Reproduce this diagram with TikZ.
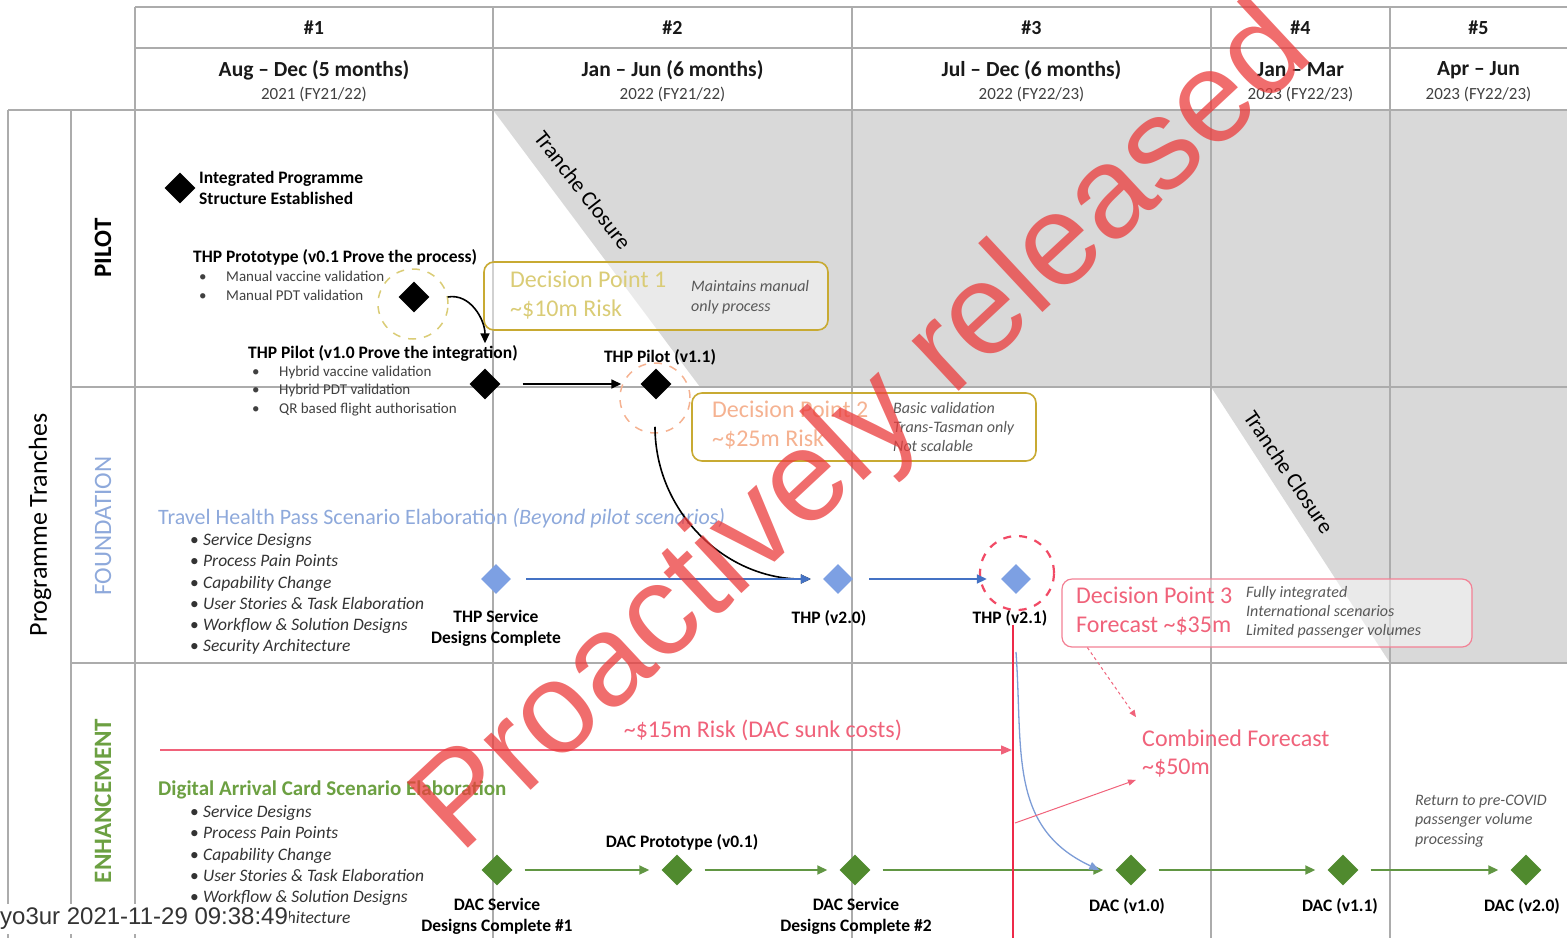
\documentclass[tikz,border=0pt]{standalone}
\usepackage{fontspec}
\setmainfont{Carlito}
\newfontfamily\stampfont{Liberation Sans}
\usetikzlibrary{shapes.geometric,arrows.meta}

\definecolor{gridgray}{RGB}{172,172,172}
\definecolor{closegray}{RGB}{217,217,217}
\definecolor{thpblue}{RGB}{142,169,219}
\definecolor{thpline}{RGB}{68,114,196}
\definecolor{thpdia}{RGB}{125,160,227}
\definecolor{dacgreen}{RGB}{80,138,46}
\definecolor{daclabel}{RGB}{108,160,66}
\definecolor{golden}{RGB}{200,170,50}
\definecolor{dpone}{RGB}{218,204,118}
\definecolor{dptwo}{RGB}{245,178,145}
\definecolor{riskred}{RGB}{240,98,122}
\definecolor{riskline}{RGB}{238,42,74}
\definecolor{notegray}{RGB}{88,88,88}
\definecolor{wmred}{RGB}{235,60,60}

\def\fsz#1#2{\fontsize{#1}{#2}\selectfont}
\newcommand\tbul[1]{\makebox[#1][l]{\upshape\textbullet}}

\tikzset{
  gridline/.style={draw=gridgray, line width=1.4pt},
  mstone/.style={diamond, minimum width=31pt, minimum height=31pt, inner sep=0pt, fill=black},
  thpdiamond/.style={mstone, minimum width=30pt, minimum height=30pt, fill=thpdia},
  dacdiamond/.style={mstone, fill=dacgreen},
  ring/.style={circle, minimum size=70pt, line width=1.5pt, dash pattern=on 8pt off 8pt},
  msbold/.style={font=\bfseries\fsz{17.5}{21}, align=center},
  colnum/.style={font=\bfseries\fsz{20}{24}, text=black!90},
  colper/.style={font=\bfseries\fsz{21.5}{24}, text=black!90},
  colyr/.style={font=\fsz{17}{20}, text=black!75},
  lanename/.style={rotate=90, font=\fsz{25}{28}},
  closure/.style={font=\fsz{22}{24}, text=black},
  smallbul/.style={font=\fsz{15}{18.5}, align=left, text=black!75, anchor=west},
  itlist/.style={font=\itshape\fsz{17.5}{21.2}, align=left, text=black!80, anchor=west},
  bigtitle/.style={font=\fsz{22}{26}, anchor=west},
  dpbox/.style={rectangle, rounded corners=10pt, line width=1.6pt, fill=white, fill opacity=.45},
  dptitle/.style={font=\fsz{24}{28.5}, align=left, anchor=west},
  dpnote/.style={font=\itshape\fsz{16}{19.5}, align=left, anchor=west, text=notegray},
  risktext/.style={font=\fsz{24}{28}, text=riskred},
  blkarrow/.style={-{Triangle[length=10pt,width=9pt]}, line width=1.6pt},
  bluarrow/.style={-{Triangle[length=10pt,width=9pt]}, line width=1.6pt, draw=thpline},
  grnarrow/.style={-{Triangle[length=10pt,width=9pt]}, line width=1.8pt, draw=dacgreen!90},
  redarrow/.style={-{Triangle[length=11pt,width=9pt]}, line width=1.4pt, draw=riskred},
  wmark/.style={font=\stampfont\fsz{130}{130}, text=wmred, text opacity=.75, rotate=43},
  stamp/.style={anchor=west, fill=white, inner xsep=1pt, inner ysep=4pt, font=\stampfont\fsz{24}{28}, text=black!80}
}

\begin{document}
\begin{tikzpicture}[x=1pt, y=-1pt, every node/.style={inner sep=0pt}]
  \useasboundingbox (0,0) rectangle (1567,938);
  \fill[closegray] (493,110) -- (1567,110) -- (1567,387) -- (700,387) -- cycle;
  \fill[closegray] (1211,387) -- (1567,387) -- (1567,663) -- (1390,663) -- cycle;
  \foreach \x in {135,493,852,1211,1390} \draw[gridline] (\x,7) -- (\x,938);
  \draw[gridline] (135,7) -- (1567,7);
  \draw[gridline] (135,48) -- (1567,48);
  \draw[gridline] (8,110) -- (1567,110);
  \foreach \y in {387,663} \draw[gridline] (71,\y) -- (1567,\y);
  \foreach \x in {8,71} \draw[gridline] (\x,110) -- (\x,938);

  \foreach \cx/\num/\per/\yr in {314/1/{Aug -- Dec (5 months)}/{2021 (FY21/22)},
      672.5/2/{Jan -- Jun (6 months)}/{2022 (FY21/22)},
      1031.5/3/{Jul -- Dec (6 months)}/{2022 (FY22/23)},
      1300.5/4/{Jan -- Mar}/{2023 (FY22/23)},
      1478.5/5/{Apr -- Jun}/{2023 (FY22/23)}} {
    \node[colnum] (num\num) at (\cx,28) {\#\num};
    \node[colper] (per\num) at (\cx,70) {\per};
    \node[colyr] (yr\num) at (\cx,94) {\yr};
  }

  \node[rotate=90, font=\fsz{26}{30}] (tranches) at (40,525) {Programme Tranches};
  \node[lanename, font=\bfseries\fsz{25}{28}] (lpilot) at (103,248) {PILOT};
  \node[lanename, text=thpblue] (lfound) at (103,526) {FOUNDATION};
  \node[lanename, font=\bfseries\fsz{25}{28}, text=daclabel] (lenh) at (103,801) {ENHANCEMENT};
  \node[closure, rotate=-52] (close1) at (583,190) {Tranche Closure};
  \node[closure, rotate=-56] (close2) at (1289,472) {Tranche Closure};

  \node[mstone] (ips) at (180,188) {};
  \node[msbold, anchor=west, align=left] (ipstext) at (199,188) {Integrated Programme\\Structure Established};
  \node[msbold, anchor=west] (prototext) at (193,257) {THP Prototype (v0.1 Prove the process)};
  \node[smallbul] (protolist) at (199,286) {\tbul{27pt}Manual vaccine validation\\\tbul{27pt}Manual PDT validation};
  \node[mstone] (proto) at (414,297) {};
  \node[ring, draw=dpone] (protoring) at (413,304) {};
  \node[msbold, anchor=west] (pilottext) at (248,353) {THP Pilot (v1.0 Prove the integration)};
  \node[smallbul] (pilotlist) at (252,391) {\tbul{27pt}Hybrid vaccine validation\\\tbul{27pt}Hybrid PDT validation\\\tbul{27pt}QR based flight authorisation};
  \node[mstone] (pilot10) at (485,384) {};
  \node[msbold] (pilot11text) at (660,357) {THP Pilot (v1.1)};
  \node[mstone] (pilot11) at (656,384) {};
  \node[ring, draw=dptwo] (pilotring) at (655,398) {};

  \node[dpbox, draw=golden, minimum width=344pt, minimum height=68pt] (dp1) at (656,296) {};
  \node[dptitle, text=dpone] (dp1text) at (510,295) {Decision Point 1\\\textasciitilde\$10m Risk};
  \node[dpnote] (dp1note) at (691,297) {Maintains manual\\only process};
  \node[dpbox, draw=golden, minimum width=344pt, minimum height=68pt] (dp2) at (864,427) {};
  \node[dptitle, text=dptwo] (dp2text) at (712,425) {Decision Point 2\\\textasciitilde\$25m Risk};
  \node[dpnote, font=\itshape\fsz{16}{19}] (dp2note) at (893,427) {Basic validation\\Trans-Tasman only\\Not scalable};

  \node[bigtitle, text=thpblue] (thptitle) at (158,518) {Travel Health Pass Scenario Elaboration \textit{(Beyond pilot scenarios)}};
  \node[itlist] (thplist) at (190,594) {\tbul{13pt}Service Designs\\\tbul{13pt}Process Pain Points\\\tbul{13pt}Capability Change\\\tbul{13pt}User Stories \& Task Elaboration\\\tbul{13pt}Workflow \& Solution Designs\\\tbul{13pt}Security Architecture};
  \node[thpdiamond] (thpsd) at (496,579) {};
  \node[thpdiamond] (thp20) at (838,579) {};
  \node[thpdiamond] (thp21) at (1016,579) {};
  \node[msbold] (thpsdtext) at (496,628) {THP Service\\Designs Complete};
  \node[msbold] (thp20text) at (829,618) {THP (v2.0)};
  \node[msbold] (thp21text) at (1010,618) {THP (v2.1)};
  \node[ring, draw=riskline!85, line width=2.2pt, minimum size=74pt] (thpring) at (1017,573) {};

  \node[dpbox, draw=riskred!80, line width=1.2pt, minimum width=410pt, minimum height=68pt] (dp3) at (1267,613) {};
  \node[dptitle, text=riskred] (dp3text) at (1076,611) {Decision Point 3\\Forecast \textasciitilde\$35m};
  \node[dpnote, font=\itshape\fsz{16}{19}] (dp3note) at (1246,612) {Fully integrated\\International scenarios\\Limited passenger volumes};

  \draw[blkarrow] ([xshift=18pt]proto.east) to[out=10,in=90] ([yshift=25pt]pilot10.north);
  \draw[blkarrow] ([xshift=22pt]pilot10.east) -- ([xshift=-19pt]pilot11.west);
  \draw[blkarrow] ([yshift=7pt]pilotring.south) to[out=-90,in=180] ([xshift=-12pt]thp20.west);
  \draw[bluarrow] ([xshift=15pt]thpsd.east) -- ([xshift=-12pt]thp20.west);
  \draw[bluarrow] ([xshift=16pt]thp20.east) -- ([xshift=-14pt]thp21.west);

  \coordinate (redtop) at (1013,625);
  \coordinate (redbot) at (1013,938);
  \coordinate (risk0) at (160,750);
  \coordinate (fork) at (1015,823);
  \coordinate (bluefork) at (1016,652);
  \node[risktext] (risk) at (763,730) {\textasciitilde\$15m Risk (DAC sunk costs)};
  \node[risktext, anchor=west, align=left] (comb) at (1142,753) {Combined Forecast\\\textasciitilde\$50m};

  \node[bigtitle, font=\bfseries\fsz{21}{26}, text=daclabel] (dactitle) at (158,790) {Digital Arrival Card Scenario Elaboration};
  \node[itlist] (daclist) at (190,866) {\tbul{13pt}Service Designs\\\tbul{13pt}Process Pain Points\\\tbul{13pt}Capability Change\\\tbul{13pt}User Stories \& Task Elaboration\\\tbul{13pt}Workflow \& Solution Designs\\\tbul{13pt}Security Architecture};
  \node[dacdiamond] (dacsd1) at (497,870) {};
  \node[dacdiamond] (dacp01) at (677,870) {};
  \node[dacdiamond] (dacsd2) at (855,870) {};
  \node[dacdiamond] (dac10) at (1131,870) {};
  \node[dacdiamond] (dac11) at (1343,870) {};
  \node[dacdiamond] (dac20) at (1526,870) {};
  \node[msbold] (dacsd1text) at (497,916) {DAC Service\\Designs Complete \#1};
  \node[msbold] (dacp01text) at (682,842) {DAC Prototype (v0.1)};
  \node[msbold] (dacsd2text) at (856,916) {DAC Service\\Designs Complete \#2};
  \node[msbold] (dac10text) at (1127,906) {DAC (v1.0)};
  \node[msbold] (dac11text) at (1340,906) {DAC (v1.1)};
  \node[msbold] (dac20text) at (1522,906) {DAC (v2.0)};
  \node[dpnote] (covid) at (1415,821) {Return to pre-COVID\\passenger volume\\processing};
  \foreach \a/\b in {dacsd1/dacp01, dacp01/dacsd2, dacsd2/dac10, dac10/dac11, dac11/dac20}
    \draw[grnarrow] ([xshift=12pt]\a.east) -- ([xshift=-12pt]\b.west);

  \draw[redarrow, shorten >=1pt] (risk0) -- (risk0 -| redtop);
  \draw[draw=riskline, line width=2.2pt] (redtop) -- (redbot);
  \draw[draw=thpline!70, line width=1.3pt, -{Triangle[length=10pt,width=8pt]}] (bluefork) to[out=-86,in=155,looseness=1.1] ([xshift=-16pt]dac10.west);
  \draw[draw=riskred, line width=1pt, dashed, -{Triangle[length=7pt,width=6pt]}] ([xshift=26pt]dp3.south west) -- ([xshift=-6pt,yshift=12pt]comb.north west);
  \draw[draw=riskred, line width=1pt, -{Triangle[length=8pt,width=6pt]}] (fork) -- ([xshift=-6pt,yshift=-3pt]comb.south west);

  \node[wmark] (wm) at (866,432) {Proactively released};
  \node[stamp] (stamp) at (-1,919) {yo3ur 2021-11-29 09:38:49};
\end{tikzpicture}
\end{document}
